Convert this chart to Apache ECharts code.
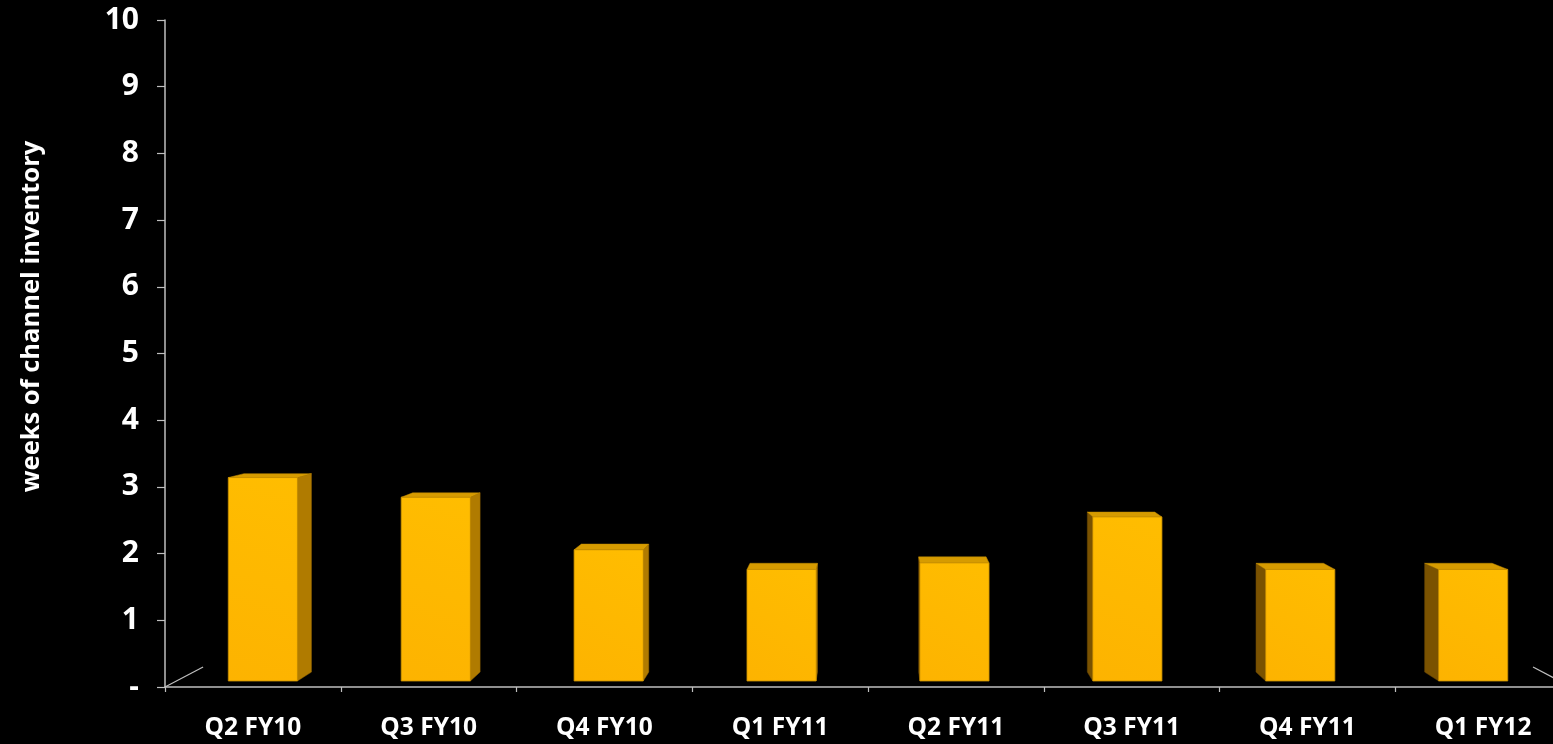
<!DOCTYPE html>
<html>
<head>
<meta charset="utf-8">
<script src="https://cdn.jsdelivr.net/npm/echarts@6/dist/echarts.min.js"></script>
<style>
html,body{margin:0;padding:0;background:#000;}
#c{width:1553px;height:744px;}
</style>
</head>
<body>
<div id="c"></div>
<script>
var categories = ['Q2 FY10','Q3 FY10','Q4 FY10','Q1 FY11','Q2 FY11','Q3 FY11','Q4 FY11','Q1 FY12'];
var weeks = [3.1, 2.8, 2.0, 1.7, 1.8, 2.5, 1.7, 1.7];
var yTicks = [0,1,2,3,4,5,6,7,8,9,10];

var chart = echarts.init(document.getElementById('c'));

// perspective: vanishing point and depth scales
var VX = 869, VY = 317, SF = 0.9838, SB = 0.9597, SFLOOR = 0.9459;
function P(x, y, s){ return [VX + (x - VX) * s, VY + (y - VY) * s]; }

function renderBar(params, api){
  var idx = api.value(0), val = api.value(1);
  var top = api.coord([idx, val]);
  var base = api.coord([idx, 0]);
  var hw = api.size([1, 0])[0] * 0.2;
  var cx = top[0], yt = top[1], yb = base[1];
  var fLT = P(cx-hw, yt, SF), fRT = P(cx+hw, yt, SF), fRB = P(cx+hw, yb, SF), fLB = P(cx-hw, yb, SF);
  var bLT = P(cx-hw, yt, SB), bRT = P(cx+hw, yt, SB), bRB = P(cx+hw, yb, SB), bLB = P(cx-hw, yb, SB);
  var children = [];
  var fc = (fLT[0] + fRT[0]) / 2;
  if (fc < VX) {
    children.push({type:'polygon', shape:{points:[fRT, bRT, bRB, fRB]}, style:{fill:'#b07b00', stroke:'#9a6b00', lineWidth:0.5}});
  } else {
    children.push({type:'polygon', shape:{points:[fLT, bLT, bLB, fLB]}, style:{fill:'#7a5200', stroke:'#6a4700', lineWidth:0.5}});
  }
  children.push({type:'polygon', shape:{points:[fLT, fRT, bRT, bLT]}, style:{fill:'#d69b00', stroke:'#c08a00', lineWidth:0.5}});
  children.push({type:'polygon', shape:{points:[fLT, fRT, fRB, fLB]}, style:{
    fill: new echarts.graphic.LinearGradient(1,0,0,1,[{offset:0,color:'#ffbd00'},{offset:1,color:'#fdb300'}]),
    stroke:'#c88f00', lineWidth:0.8}});
  return {type:'group', children:children};
}

function renderFloor(params, api){
  var cs = params.coordSys;
  var x0 = cs.x, x1 = cs.x + cs.width, y = cs.y + cs.height;
  return {type:'group', children:[
    {type:'line', shape:{x1:x0, y1:y, x2:P(x0,y,SFLOOR)[0], y2:P(x0,y,SFLOOR)[1]}, style:{stroke:'#bfbfbf', lineWidth:1.2}},
    {type:'line', shape:{x1:x1, y1:y, x2:P(x1,y,SFLOOR)[0], y2:P(x1,y,SFLOOR)[1]}, style:{stroke:'#bfbfbf', lineWidth:1.2}}
  ]};
}

chart.setOption({
  backgroundColor:'#000',
  animation:false,
  grid:{left:165, top:20, bottom:57, right:-18, containLabel:false, outerBoundsMode:'none'},
  xAxis:{
    type:'category', data:categories, boundaryGap:true,
    axisLine:{show:true, lineStyle:{color:'#bfbfbf', width:1.5}},
    axisTick:{show:true, alignWithLabel:false, interval:0, length:5, lineStyle:{color:'#bfbfbf', width:1.2}},
    axisLabel:{color:'#fff', fontFamily:'Open Sans', fontWeight:'bold', fontSize:24.5, margin:29, interval:0}
  },
  yAxis:{
    type:'value', min:0, max:10, interval:1,
    name:'weeks of channel inventory', nameLocation:'middle', nameGap:120, nameRotate:90,
    nameTextStyle:{color:'#fff', fontFamily:'Open Sans', fontWeight:'bold', fontSize:25.5, padding:[0,0,0,74]},
    splitLine:{show:false},
    axisLine:{show:true, lineStyle:{color:'#bfbfbf', width:1.5}},
    axisTick:{show:true, length:8, lineStyle:{color:'#bfbfbf', width:1.2}},
    axisLabel:{color:'#fff', fontFamily:'Open Sans', fontWeight:'bold', fontSize:30, margin:26,
      formatter:function(v){ return v === 0 ? '-' : String(v); }}
  },
  series:[
    {type:'custom', renderItem:renderFloor, data:[[0,0]], silent:true, z:1},
    {type:'custom', renderItem:renderBar, data:weeks.map(function(v,i){return [i,v];}), encode:{x:0,y:1}, z:2}
  ]
});
</script>
</body>
</html>
